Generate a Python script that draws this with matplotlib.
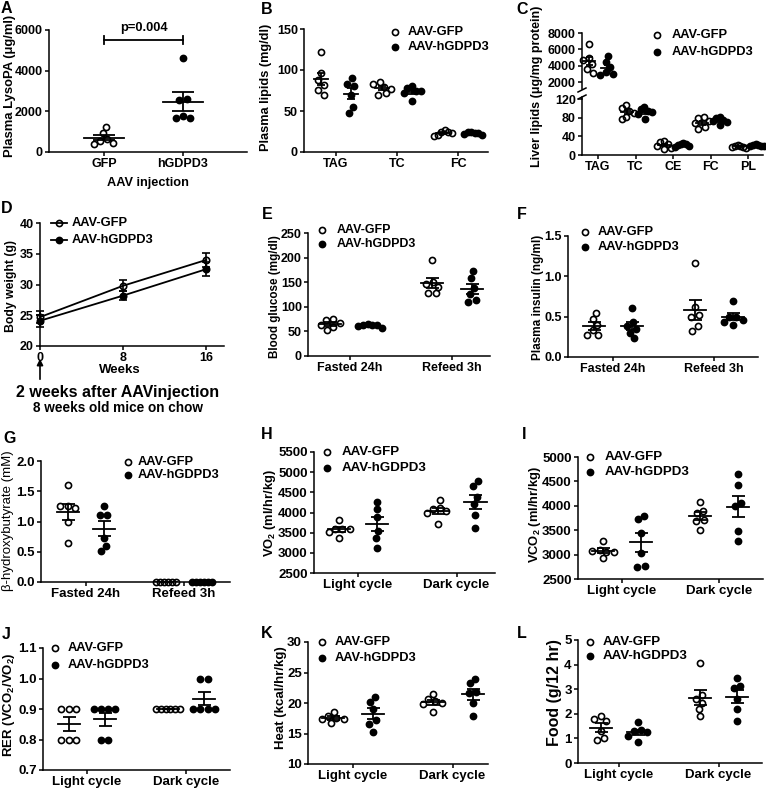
import numpy as np
import matplotlib
matplotlib.use('Agg')
import matplotlib.pyplot as plt
from matplotlib.lines import Line2D
from matplotlib.ticker import FormatStrFormatter

# ---------------- data ----------------
groups = ['AAV-GFP', 'AAV-hGDPD3']

a_cats = ['GFP', 'hGDPD3']
a_gfp = [1250, 930, 650, 550, 450, 400]
a_hgdpd3 = [4600, 2600, 2550, 1750, 1650, 1650]
a_pvalue = 'p=0.004'

b_cats = ['TAG', 'TC', 'FC']
b_gfp = [[122, 96, 88, 82, 76, 70], [85, 83, 79, 77, 72, 70], [27, 25, 24, 23, 21, 20]]
b_hgdpd3 = [[90, 83, 80, 70, 55, 48], [80, 78, 75, 74, 72, 62], [25, 24, 23, 23, 22, 21]]

c_cats = ['TAG', 'TC', 'CE', 'FC', 'PL']
c_gfp = [[6600, 5000, 4700, 4200, 3600, 3100], [108, 100, 95, 90, 82, 78],
         [30, 27, 24, 20, 16, 13], [82, 80, 72, 68, 60, 55], [22, 20, 19, 18, 17, 15]]
c_hgdpd3 = [[5200, 4400, 3800, 3200, 3000, 2900], [103, 98, 95, 92, 88, 78],
            [25, 24, 23, 22, 20, 18], [82, 80, 75, 72, 70, 65], [23, 22, 21, 20, 20, 19]]

d_weeks = [0, 8, 16]
d_gfp = [24.7, 29.8, 34.0]
d_gfp_sem = [1.0, 0.9, 1.2]
d_hgdpd3 = [24.1, 28.2, 32.5]
d_hgdpd3_sem = [1.0, 0.7, 1.1]

fed_cats = ['Fasted 24h', 'Refeed 3h']
cycle_cats = ['Light cycle', 'Dark cycle']

e_gfp = [[75, 73, 68, 62, 58, 52], [196, 150, 147, 140, 128, 128]]
e_hgdpd3 = [[65, 64, 63, 62, 60, 57], [173, 159, 138, 126, 113, 110]]
f_gfp = [[0.55, 0.47, 0.40, 0.33, 0.27, 0.27], [1.16, 0.62, 0.52, 0.50, 0.38, 0.32]]
f_hgdpd3 = [[0.61, 0.43, 0.38, 0.35, 0.30, 0.23], [0.70, 0.50, 0.49, 0.46, 0.43, 0.40]]
g_gfp = [[1.61, 1.25, 1.25, 1.22, 1.00, 0.64], [0, 0, 0, 0, 0, 0]]
g_hgdpd3 = [[1.25, 1.10, 1.10, 0.73, 0.60, 0.51], [0, 0, 0, 0, 0, 0]]
h_gfp = [[3820, 3600, 3580, 3580, 3520, 3380], [4300, 4120, 4080, 4030, 3980, 3720]]
h_hgdpd3 = [[4260, 4080, 3880, 3550, 3380, 3120], [4780, 4660, 4380, 4220, 3940, 3620]]
i_gfp = [[3270, 3100, 3080, 3060, 3050, 2940], [4080, 3900, 3860, 3700, 3680, 3500]]
i_hgdpd3 = [[3800, 3720, 3450, 3040, 2760, 2740], [4660, 4430, 4060, 4000, 3480, 3280]]
j_gfp = [[0.9, 0.9, 0.9, 0.8, 0.8, 0.8], [0.9, 0.9, 0.9, 0.9, 0.9, 0.9]]
j_hgdpd3 = [[0.9, 0.9, 0.9, 0.9, 0.8, 0.8], [1.0, 1.0, 0.9, 0.9, 0.9, 0.9]]
k_gfp = [[18.6, 17.8, 17.5, 17.4, 17.3, 16.7], [21.5, 20.6, 20.3, 20.0, 19.8, 18.5]]
k_hgdpd3 = [[21.0, 20.2, 19.0, 17.2, 16.6, 15.3], [24.0, 23.3, 21.8, 21.6, 20.0, 17.9]]
l_gfp = [[1.9, 1.8, 1.7, 1.3, 1.0, 0.95], [4.05, 2.75, 2.6, 2.45, 2.2, 1.9]]
l_hgdpd3 = [[1.65, 1.35, 1.3, 1.25, 1.1, 0.85], [3.45, 3.15, 3.05, 2.6, 2.2, 1.72]]

# ---------------- style ----------------
W, H = 766, 792
plt.rcParams['font.family'] = ['Liberation Sans', 'DejaVu Sans']
plt.rcParams['font.weight'] = 'bold'
plt.rcParams['axes.labelweight'] = 'bold'
plt.rcParams['axes.linewidth'] = 1.1
plt.rcParams['mathtext.fontset'] = 'custom'
plt.rcParams['mathtext.rm'] = 'Liberation Sans:bold'
plt.rcParams['mathtext.it'] = 'Liberation Sans:bold'
plt.rcParams['mathtext.bf'] = 'Liberation Sans:bold'

fig = plt.figure(figsize=(W / 100, H / 100), dpi=100)

MS, MEW, LW = 4.4, 1.2, 1.3


def box(x0, y0, x1, y1):
    # axes from pixel box (top-left origin)
    return fig.add_axes([x0 / W, 1 - y1 / H, (x1 - x0) / W, (y1 - y0) / H])


def cat_axes(b, c0, s):
    ax = box(*b)
    ax.set_xlim((b[0] - c0) / s, (b[2] - c0) / s)
    return ax


def frame(ax, ylim, yticks, fs):
    ax.set_ylim(ylim)
    ax.set_yticks(yticks)
    ax.spines[['top', 'right']].set_visible(False)
    ax.tick_params(length=3, width=1.1, pad=1.5, labelsize=fs)


def swarm(yp, d, maxw):
    n = len(yp)
    xs = np.zeros(n)
    for k in range(n):
        cands = [0.0]
        for j in range(k):
            dy = abs(yp[k] - yp[j])
            if dy < d:
                dx = np.sqrt(d * d - dy * dy)
                cands += [xs[j] + dx, xs[j] - dx]
        cands.sort(key=lambda c: (abs(c), c))
        for c in cands:
            if all((c - xs[j]) ** 2 + (yp[k] - yp[j]) ** 2 >= d * d - 1e-6 for j in range(k)):
                xs[k] = c
                break
    # centre each clump, squeeze it if it gets too wide
    seen = [False] * n
    for i in range(n):
        if seen[i]:
            continue
        comp, q = [i], [i]
        seen[i] = True
        while q:
            a = q.pop()
            for b in range(n):
                if not seen[b] and np.hypot(xs[a] - xs[b], yp[a] - yp[b]) < d * 1.02:
                    seen[b] = True
                    comp.append(b)
                    q.append(b)
        comp = np.array(comp)
        if len(comp) > 1:
            xs[comp] -= xs[comp].mean()
            w = np.abs(xs[comp]).max()
            if w > maxw:
                xs[comp] *= maxw / w
    return xs


def dots(ax, xc, vals, fc, s, mean_hw, cap_hw, maxw, d=7.2):
    vals = np.asarray(vals, float)
    yp = ax.transData.transform(np.column_stack([np.full(len(vals), xc), vals]))[:, 1]
    xo = swarm(yp, d, maxw) / s
    ax.plot(xc + xo, vals, 'o', ms=MS, mfc=fc, mec='k', mew=MEW, ls='none',
            clip_on=False, zorder=3)
    m = vals.mean()
    se = vals.std(ddof=1) / np.sqrt(len(vals))
    ax.plot([xc - mean_hw / s, xc + mean_hw / s], [m, m], color='k', lw=LW, zorder=4)
    ax.errorbar([xc], [m], yerr=[se], fmt='none', ecolor='k', elinewidth=LW,
                capsize=cap_hw * 0.72, capthick=LW, zorder=4)


def pair_dots(ax, gfp, hg, s, off, mean_hw=11, cap_hw=6.5, maxw=12):
    for ci in range(len(gfp)):
        dots(ax, ci - off / s, gfp[ci], 'none', s, mean_hw, cap_hw, maxw)
        dots(ax, ci + off / s, hg[ci], 'k', s, mean_hw, cap_hw, maxw)


def cat_ticks(ax, cats):
    ax.set_xticks(range(len(cats)))
    ax.set_xticklabels(cats)


def ylab(ax, text, x, y, fs, weight='bold'):
    ax.set_ylabel(text, fontsize=fs, fontweight=weight)
    ax.yaxis.label.set_verticalalignment('center')
    ax.yaxis.set_label_coords(x / W, 1 - y / H, transform=fig.transFigure)


def key(xm, xt, y1, y2, fs=9.3, line=False):
    for y, fc, lab in ((y1, 'none', groups[0]), (y2, 'k', groups[1])):
        fy = 1 - y / H
        if line:
            fig.add_artist(Line2D([(xm - 8) / W, (xm + 8) / W], [fy, fy], color='k', lw=1.3))
        fig.add_artist(Line2D([xm / W], [fy], marker='o', ms=MS, mfc=fc, mec='k',
                              mew=MEW, ls='none'))
        fig.text(xt / W, fy, lab, fontsize=fs, va='center', ha='left')


def letter(t, x, y):
    fig.text(x / W, 1 - y / H, t, fontsize=11.5, va='top', ha='left')


# ---------------- A ----------------
ax = cat_axes((49, 30, 247, 152), 104, 79)
frame(ax, (0, 6000), [0, 2000, 4000, 6000], 9)
cat_ticks(ax, a_cats)
dots(ax, 0, a_gfp, 'none', 79, 20, 11, 16)
dots(ax, 1, a_hgdpd3, 'k', 79, 20, 11, 16)
ax.plot([0, 1], [5500, 5500], color='k', lw=LW, clip_on=False)
ax.plot([0, 0], [5300, 5700], color='k', lw=LW, clip_on=False)
ax.plot([1, 1], [5300, 5700], color='k', lw=LW, clip_on=False)
ax.text(0.5, 5800, a_pvalue, ha='center', va='bottom', fontsize=9.3)
ax.set_xlabel('AAV injection', fontsize=9.2)
ax.xaxis.set_label_coords(148 / W, 1 - 183 / H, transform=fig.transFigure)
ax.xaxis.label.set_verticalalignment('center')
ylab(ax, 'Plasma LysoPA (\u03bcg/ml)', 10, 86, 9.4)
letter('A', 1, 1)

# ---------------- B ----------------
ax = cat_axes((304, 29, 488, 152), 336, 61)
frame(ax, (0, 150), [0, 50, 100, 150], 9)
cat_ticks(ax, b_cats)
pair_dots(ax, b_gfp, b_hgdpd3, 61, 15, mean_hw=7, cap_hw=4, maxw=9)
ylab(ax, 'Plasma lipids (mg/dl)', 266, 87, 9.2)
key(395, 408, 32, 47)
letter('B', 261, 2)

# ---------------- C (broken axis) ----------------
c_top = cat_axes((582, 33, 763, 89), 598, 37.5)
c_bot = cat_axes((582, 99, 763, 155), 598, 37.5)
frame(c_top, (1150, 8000), [2000, 4000, 6000, 8000], 9)
c_top.spines['bottom'].set_visible(False)
c_top.set_xticks([])
frame(c_bot, (0, 120), [0, 40, 80, 120], 9)
cat_ticks(c_bot, c_cats)
dots(c_top, -9 / 37.5, c_gfp[0], 'none', 37.5, 6, 3.5, 7)
dots(c_top, 9 / 37.5, c_hgdpd3[0], 'k', 37.5, 6, 3.5, 7)
for ci in range(1, len(c_cats)):
    dots(c_bot, ci - 9 / 37.5, c_gfp[ci], 'none', 37.5, 6, 3.5, 7)
    dots(c_bot, ci + 9 / 37.5, c_hgdpd3[ci], 'k', 37.5, 6, 3.5, 7)
for yb in (90, 97):
    fig.add_artist(Line2D([578 / W, 586 / W], [1 - (yb + 2) / H, 1 - (yb - 2) / H],
                          color='k', lw=1.1))
fig.add_artist(Line2D([582 / W, 582 / W], [1 - 97 / H, 1 - 99 / H], color='k', lw=1.1))
ylab(c_bot, 'Liver lipids (\u03bcg/mg protein)', 537, 86, 9.0)
key(657, 672, 35, 52)
letter('C', 516, 2)

# ---------------- D ----------------
ax = box(40, 223, 224, 346)
ax.set_xlim(0, 17.7)
frame(ax, (20, 40), [20, 25, 30, 35, 40], 9)
ax.set_xticks(d_weeks)
for yv, se, fc in ((d_gfp, d_gfp_sem, 'none'), (d_hgdpd3, d_hgdpd3_sem, 'k')):
    eb = ax.errorbar(d_weeks, yv, yerr=se, fmt='-o', color='k', mfc=fc, mec='k',
                     ms=4.6, mew=MEW, lw=1.3, elinewidth=1.2, capsize=3, capthick=1.2)
    for art in eb.get_children():
        art.set_clip_on(False)
ax.set_xlabel('Weeks', fontsize=9.5)
ax.xaxis.label.set_verticalalignment('center')
ax.xaxis.set_label_coords(120 / W, 1 - 370 / H, transform=fig.transFigure)
ylab(ax, 'Body weight (g)', 11, 286, 8.8)
ax.annotate('', xy=(0, H - 356), xytext=(0, H - 382),
            xycoords=('data', 'figure pixels'), textcoords=('data', 'figure pixels'),
            arrowprops=dict(arrowstyle='-|>', color='k', lw=1.2, mutation_scale=9))
fig.text(118 / W, 1 - 393 / H, '2 weeks after AAVinjection', ha='center', va='center',
         fontsize=11.5)
fig.text(118 / W, 1 - 408 / H, '8 weeks old mice on chow', ha='center', va='center',
         fontsize=9.8)
key(59, 72, 223, 240, line=True)
letter('D', 1, 201)

# ---------------- E ----------------
ax = cat_axes((308, 233, 490, 356), 350, 102)
frame(ax, (0, 250), [0, 50, 100, 150, 200, 250], 9)
cat_ticks(ax, fed_cats)
pair_dots(ax, e_gfp, e_hgdpd3, 102, 20)
ylab(ax, 'Blood glucose (mg/dl)', 275, 297, 8.4)
key(322, 337, 230, 244, fs=8.9)
letter('E', 262, 207)

# ---------------- F ----------------
ax = cat_axes((568, 236, 758, 357), 613, 101)
frame(ax, (0, 1.5), [0, 0.5, 1.0, 1.5], 9)
ax.yaxis.set_major_formatter(FormatStrFormatter('%.1f'))
cat_ticks(ax, fed_cats)
pair_dots(ax, f_gfp, f_hgdpd3, 101, 19)
ylab(ax, 'Plasma insulin (ng/ml)', 538, 297, 8.5)
key(585, 598, 232, 247)
letter('F', 517, 207)

# ---------------- G ----------------
ax = cat_axes((41, 461, 230, 582), 85.5, 98)
frame(ax, (0, 2.0), [0, 0.5, 1.0, 1.5, 2.0], 9.5)
ax.yaxis.set_major_formatter(FormatStrFormatter('%.1f'))
cat_ticks(ax, fed_cats)
pair_dots(ax, g_gfp, g_hgdpd3, 98, 18, maxw=10)
ylab(ax, '\u03b2-hydroxybutyrate (mM)', 8, 521, 9.5, weight='normal')
key(128, 138, 462, 475)
letter('G', 3, 431)

# ---------------- H ----------------
ax = cat_axes((314, 452, 495, 573), 358, 98.5)
frame(ax, (2500, 5500), np.arange(2500, 5501, 500), 9.5)
cat_ticks(ax, cycle_cats)
pair_dots(ax, h_gfp, h_hgdpd3, 98.5, 19)
ylab(ax, r'VO$_2$ (ml/hr/kg)', 270, 513, 9.3)
key(327, 342, 452, 468, fs=9.6)
letter('H', 261, 427)

# ---------------- I ----------------
ax = cat_axes((578, 457, 763, 579), 622, 97)
frame(ax, (2500, 5000), np.arange(2500, 5001, 500), 9.5)
cat_ticks(ax, cycle_cats)
pair_dots(ax, i_gfp, i_hgdpd3, 97, 19)
ylab(ax, r'VCO$_2$ (ml/hr/kg)', 535, 515, 9.3)
key(590, 605, 457, 472, fs=9.6)
letter('I', 522, 427)

# ---------------- J ----------------
ax = cat_axes((43, 648, 230, 770), 86.5, 99.5)
frame(ax, (0.7, 1.1), [0.7, 0.8, 0.9, 1.0, 1.1], 9.5)
ax.yaxis.set_major_formatter(FormatStrFormatter('%.1f'))
cat_ticks(ax, cycle_cats)
pair_dots(ax, j_gfp, j_hgdpd3, 99.5, 18)
ylab(ax, r'RER (VCO$_2$/VO$_2$)', 9, 705, 9.5)
key(55, 68, 648, 665)
letter('J', 2, 627)

# ---------------- K ----------------
ax = cat_axes((308, 642, 488, 764), 352.5, 100)
frame(ax, (10, 30), [10, 15, 20, 25, 30], 9.5)
cat_ticks(ax, cycle_cats)
pair_dots(ax, k_gfp, k_hgdpd3, 100, 20)
ylab(ax, 'Heat (kcal/hr/kg)', 281, 698, 9.5)
key(322, 335, 642, 658)
letter('K', 261, 626)

# ---------------- L ----------------
ax = cat_axes((578, 640, 762, 763), 619, 99.5)
frame(ax, (0, 5), [0, 1, 2, 3, 4, 5], 9.5)
cat_ticks(ax, cycle_cats)
pair_dots(ax, l_gfp, l_hgdpd3, 99.5, 18.5)
ylab(ax, 'Food (g/12 hr)', 555, 693, 11.5)
key(590, 603, 642, 656, fs=9.6)
letter('L', 517, 626)

fig.savefig('out.png', dpi=100)
